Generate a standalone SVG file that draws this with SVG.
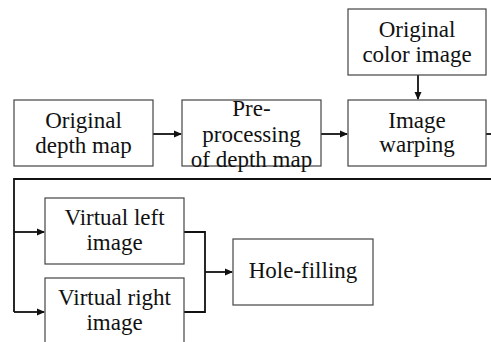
<svg xmlns="http://www.w3.org/2000/svg" width="491" height="342" viewBox="0 0 491 342">
<style>
.box{fill:#fff;stroke:#444;stroke-width:1.2}
.t{font-family:'Liberation Serif','Times New Roman',serif;font-size:23px;fill:#111;text-anchor:middle}
.c{fill:none;stroke:#111;stroke-width:1.8}
</style>
<defs>
<marker id="ah" markerWidth="8" markerHeight="8" refX="7" refY="4" orient="auto" markerUnits="userSpaceOnUse">
<path d="M0,0.5 L8,4 L0,7.5 Z" fill="#111"/>
</marker>
</defs>
<rect width="491" height="342" fill="#fff"/>
<g id="connectors">
<line class="c" x1="153" y1="134" x2="181" y2="134" marker-end="url(#ah)"/>
<line class="c" x1="321" y1="134" x2="347" y2="134" marker-end="url(#ah)"/>
<line class="c" x1="418" y1="75" x2="418" y2="99" marker-end="url(#ah)"/>
<line class="c" x1="486" y1="134" x2="491" y2="134"/>
<polyline class="c" points="491,179 14,179 14,312"/>
<line class="c" x1="14" y1="232" x2="44" y2="232" marker-end="url(#ah)"/>
<line class="c" x1="14" y1="312" x2="44" y2="312" marker-end="url(#ah)"/>
<polyline class="c" points="184,232 205,232 205,312 184,312"/>
<line class="c" x1="205" y1="272" x2="232" y2="272" marker-end="url(#ah)"/>
</g>
<g id="depth">
<rect class="box" x="14" y="100" width="139" height="66"/>
<text class="t" x="83.5" y="128">Original</text>
<text class="t" x="83.5" y="153">depth map</text>
</g>
<g id="preprocessing">
<rect class="box" x="182" y="100" width="139" height="66"/>
<text class="t" x="251.5" y="115.5">Pre-</text>
<text class="t" x="251.5" y="141.5">processing</text>
<text class="t" x="251.5" y="167">of depth map</text>
</g>
<g id="warping">
<rect class="box" x="348" y="100" width="138" height="66"/>
<text class="t" x="417" y="128">Image</text>
<text class="t" x="417" y="152">warping</text>
</g>
<g id="color">
<rect class="box" x="348" y="9" width="138" height="66"/>
<text class="t" x="417" y="37">Original</text>
<text class="t" x="417" y="62">color image</text>
</g>
<g id="vleft">
<rect class="box" x="45" y="198" width="139" height="66"/>
<text class="t" x="114.5" y="225">Virtual left</text>
<text class="t" x="114.5" y="250">image</text>
</g>
<g id="vright">
<rect class="box" x="45" y="278" width="139" height="66"/>
<text class="t" x="114.5" y="305">Virtual right</text>
<text class="t" x="114.5" y="330">image</text>
</g>
<g id="holefilling">
<rect class="box" x="233" y="239" width="140" height="66"/>
<text class="t" x="303" y="278">Hole-filling</text>
</g>
</svg>
